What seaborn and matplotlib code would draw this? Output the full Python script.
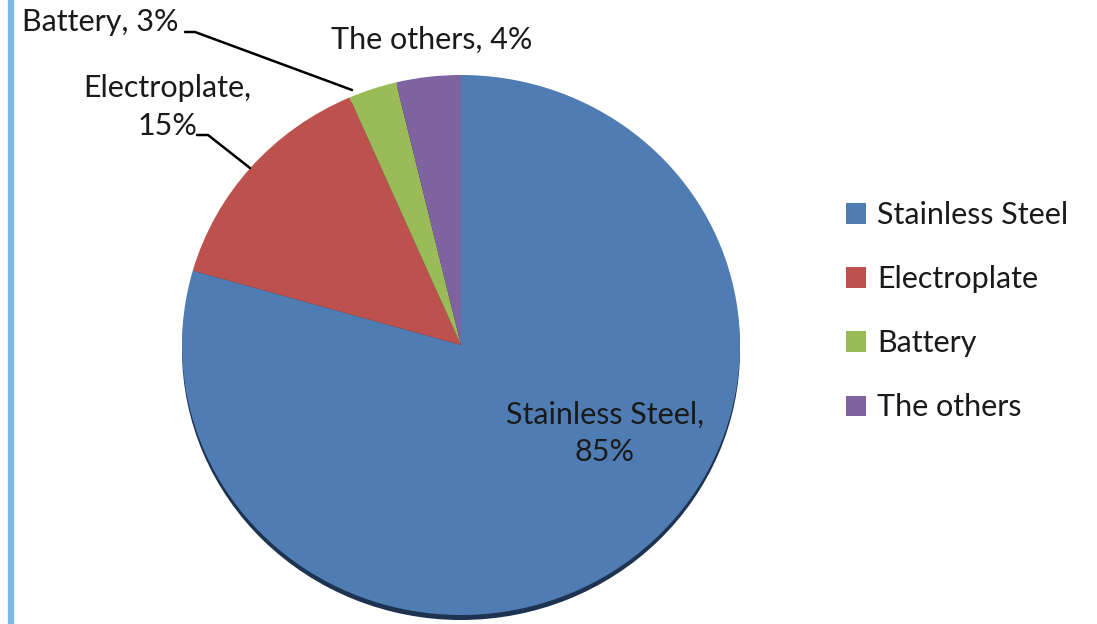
import matplotlib
matplotlib.use("Agg")
import matplotlib.pyplot as plt
import seaborn as sns
from matplotlib.lines import Line2D

categories = ["Stainless Steel", "Electroplate", "Battery", "The others"]
values = [85, 15, 3, 4]
colors = ["#4F7DB3", "#BD514E", "#9BBB59", "#7F62A0"]
slice_labels = ["Stainless Steel,\n85%", "Electroplate,\n15%", "Battery, 3%", "The others, 4%"]

sns.set_theme(style="white")
plt.rcParams["font.family"] = ["Lato", "DejaVu Sans"]

W, H = 1097, 624
fig = plt.figure(figsize=(W / 100, H / 100), dpi=100)
ax = fig.add_axes([0, 0, 1, 1])

RX, RY = 279, 270
S = RX / RY


def P(px, py):
    return px, (H - py) * S


cx, cy = P(461, 345)

# shadow
ax.pie([1], colors=["#1d3350"], center=P(461, 350), radius=RX, startangle=90,
       wedgeprops=dict(linewidth=0))
wedges, _ = ax.pie(values, colors=colors, center=(cx, cy), radius=RX,
                   startangle=90, counterclock=False, wedgeprops=dict(linewidth=0))

ax.set_aspect("auto")
ax.set_xlim(0, W)
ax.set_ylim(0, H * S)
ax.axis("off")

fs = 22
tc = "#1a1a1a"
ax.text(*P(605, 433), slice_labels[0], ha="center", va="center", fontsize=fs,
        color=tc, linespacing=1.4)
ax.text(*P(167, 107), slice_labels[1], ha="center", va="center", fontsize=fs,
        color=tc, linespacing=1.45)
ax.text(*P(100, 22), slice_labels[2], ha="center", va="center", fontsize=fs,
        color=tc)
ax.text(*P(432, 40), slice_labels[3], ha="center", va="center", fontsize=fs,
        color=tc)

# leader lines
for pts in ([(197, 135), (208, 135), (250, 168)],
            [(185, 32), (195, 32), (352, 90)]):
    xs, ys = zip(*[P(a, b) for a, b in pts])
    ax.add_line(Line2D(xs, ys, color="black", lw=1.8))

# left border
ax.add_line(Line2D([10.5, 10.5], [0, H * S], color="#7DB9E8", lw=4.5))

leg = ax.legend(wedges, categories, loc="upper left",
                bbox_to_anchor=(831 / W, 1 - 186 / H), frameon=False, fontsize=fs,
                handlelength=0.65, handleheight=0.65, handletextpad=0.35,
                labelspacing=1.18, borderpad=0)
for t in leg.get_texts():
    t.set_color(tc)

fig.savefig("out.png", dpi=100)
